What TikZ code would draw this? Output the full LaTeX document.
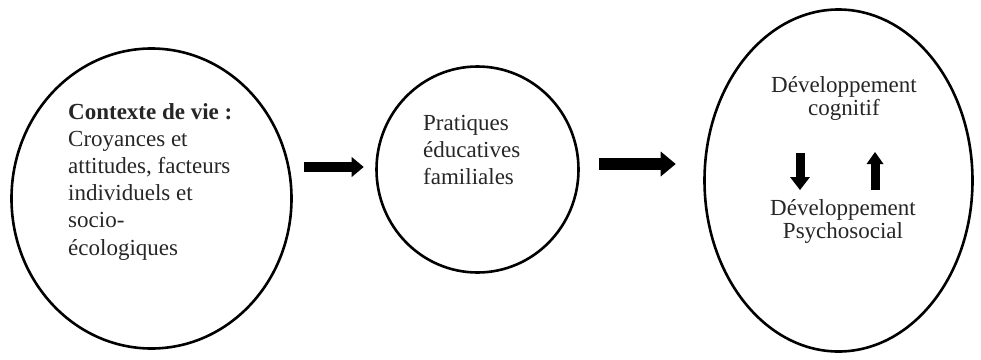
\documentclass[tikz,border=0pt]{standalone}
\usepackage{fontspec}
\setmainfont{Liberation Serif}
\usetikzlibrary{shapes.geometric,arrows.meta}
\begin{document}
\begin{tikzpicture}[x=1pt,y=-1pt,
  bubble/.style={draw=black, line width=2.6pt, ellipse, inner sep=0pt},
  txt/.style={inner sep=0pt, text=black!85, font=\fontsize{23}{27.2}\selectfont},
  txtc/.style={inner sep=0pt, text=black!85, font=\fontsize{23}{23.5}\selectfont},
  flow/.style={draw=black, line width=#1},
  flow/.default=10pt]
\useasboundingbox (0,0) rectangle (981,359);
% ellipses
\node[bubble, minimum width=280pt, minimum height=300pt] (ctxe) at (151.5,198.5) {};
\node[bubble, minimum width=202pt, minimum height=206pt] (prat) at (477.5,169.5) {};
\node[bubble, minimum width=268pt, minimum height=342pt] (dev) at (838.5,180.5) {};
% texts
\node[txt, anchor=base west] (ctxt) at (68,119) {\begin{tabular}[t]{@{}l@{}}\textbf{Contexte de vie :}\\ Croyances et\\ attitudes, facteurs\\ individuels et\\ socio-\\ écologiques\end{tabular}};
\node[txt, anchor=base west] (pratt) at (423,130) {\begin{tabular}[t]{@{}l@{}}Pratiques\\ éducatives\\ familiales\end{tabular}};
\node[txtc, anchor=base] (cog) at (844,92) {\begin{tabular}[t]{@{}c@{}}Développement\\ cognitif\end{tabular}};
\node[txtc, anchor=base] (psy) at (843,215) {\begin{tabular}[t]{@{}c@{}}Développement\\ Psychosocial\end{tabular}};
% main arrows
\coordinate (yA) at (0,167);
\coordinate (yB) at (0,164);
\draw[flow=10pt, -{Triangle[length=12pt,width=20pt,line width=0pt]}, shorten <=11.5pt, shorten >=11.5pt]
  (ctxe.east |- yA) -- (prat.west |- yA);
\draw[flow=12pt, -{Triangle[length=15pt,width=25pt,line width=0pt]}, shorten <=19.5pt, shorten >=27.5pt]
  (prat.east |- yB) -- (dev.west |- yB);
% inner arrows
\coordinate (dtop) at (800,153);
\coordinate (dbot) at (800,190);
\coordinate (ubot) at (875,190);
\coordinate (utop) at (875,152);
\draw[flow=9pt, -{Triangle[length=13pt,width=20pt,line width=0pt]}] (dtop) -- (dbot);
\draw[flow=9pt, -{Triangle[length=12pt,width=17pt,line width=0pt]}] (ubot) -- (utop);
\end{tikzpicture}
\end{document}
